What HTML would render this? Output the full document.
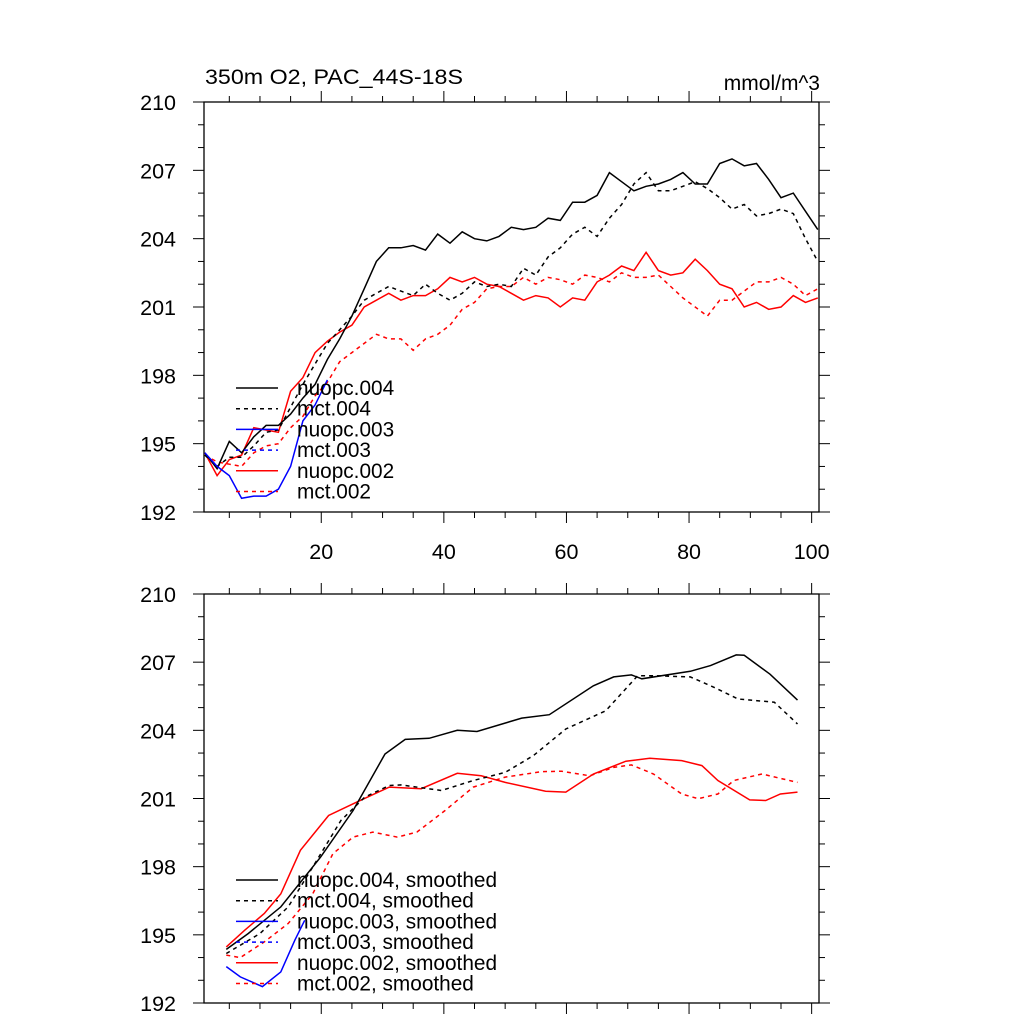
<!DOCTYPE html>
<html><head><meta charset="utf-8"><style>
html,body{margin:0;padding:0;background:#fff;}
svg text{font-family:"Liberation Sans",sans-serif;}
</style></head><body>
<svg id="chart" width="1024" height="1024" viewBox="0 0 1024 1024" xmlns="http://www.w3.org/2000/svg">
<rect width="1024" height="1024" fill="#fff"/>
<text x="205" y="84" font-size="21" textLength="258" lengthAdjust="spacingAndGlyphs">350m O2, PAC_44S-18S</text>
<text x="820" y="90" font-size="21" text-anchor="end">mmol/m^3</text>
</svg>
<script>
// Top panel raw data (years 1,3,...,101)
const years = [1,3,5,7,9,11,13,15,17,19,21,23,25,27,29,31,33,35,37,39,41,43,45,47,49,51,53,55,57,59,61,63,65,67,69,71,73,75,77,79,81,83,85,87,89,91,93,95,97,99,101];
const nuopc004 = [194.6,193.9,195.1,194.6,195.3,195.8,195.8,196.3,197.0,197.6,198.7,199.6,200.6,201.8,203.0,203.6,203.6,203.7,203.5,204.2,203.8,204.3,204.0,203.9,204.1,204.5,204.4,204.5,204.9,204.8,205.6,205.6,205.9,206.9,206.5,206.1,206.3,206.4,206.6,206.9,206.4,206.4,207.3,207.5,207.2,207.3,206.6,205.8,206.0,205.2,204.4];
const mct004 = [194.5,194.0,194.4,194.4,194.9,195.5,195.6,196.6,197.6,198.5,199.4,200.0,200.6,201.3,201.6,201.9,201.7,201.5,202.0,201.6,201.3,201.6,202.1,201.9,202.0,201.9,202.7,202.4,203.2,203.6,204.2,204.5,204.1,204.9,205.5,206.4,206.9,206.1,206.1,206.3,206.5,206.2,205.8,205.3,205.5,205.0,205.1,205.3,205.1,204.0,203.0];
const nuopc002 = [194.6,193.6,194.3,194.5,195.7,195.6,195.5,197.3,197.9,199.0,199.5,199.9,200.2,201.0,201.3,201.6,201.3,201.5,201.5,201.8,202.3,202.1,202.3,202.0,201.9,201.6,201.3,201.5,201.4,201.0,201.4,201.3,202.1,202.4,202.8,202.6,203.4,202.6,202.4,202.5,203.1,202.6,202.0,201.8,201.0,201.2,200.9,201.0,201.5,201.2,201.4];
const mct002 = [194.5,194.2,194.1,194.0,194.6,194.9,195.0,195.7,196.2,197.1,197.7,198.6,199.0,199.4,199.8,199.6,199.6,199.1,199.6,199.8,200.2,200.9,201.2,201.8,201.9,201.9,202.3,202.0,202.3,202.2,202.0,202.4,202.3,202.1,202.5,202.3,202.3,202.4,201.9,201.4,201.0,200.6,201.3,201.3,201.7,202.1,202.1,202.3,202.0,201.5,201.8];
const years003 = [1,3,5,7,9,11,13,15,17,19,21];
const nuopc003 = [194.6,194.0,193.6,192.6,192.7,192.7,193.0,194.0,196.0,196.7,197.8];

// Bottom panel smoothed data
const sYrN004 = [4.5,8.1,13.4,19.9,25.2,30.4,33.7,37.6,42.2,45.4,52.7,57.2,64.4,67.7,70.6,72.3,80.2,83.5,87.7,89,93.2,97.7];
const sN004 = [194.36,195.06,196.23,198.42,200.47,202.96,203.6,203.65,204.0,203.95,204.54,204.69,205.96,206.35,206.44,206.27,206.6,206.85,207.32,207.3,206.47,205.33];
const sYrM004 = [4.5,10,14.6,18.6,23.2,27.1,31.1,33,39.6,44.8,50,54.6,59.9,66.4,71.6,74.8,80.2,84.1,88,93.9,97.7];
const sM004 = [194.18,195.06,196.23,197.98,200.03,201.06,201.57,201.6,201.35,201.79,202.15,202.89,204.06,204.86,206.4,206.4,206.35,205.89,205.38,205.24,204.28];
const sYrN002 = [4.5,7.5,10.7,13.4,16.6,21.2,25.8,31.1,36.3,42.2,46.1,50,56.6,59.9,64.4,69.7,73.6,78.8,82.1,84.7,89.9,92.5,94.9,97.7];
const sN002 = [194.47,195.2,195.94,196.8,198.72,200.25,200.84,201.5,201.43,202.11,202.0,201.71,201.32,201.28,202.08,202.64,202.77,202.67,202.45,201.79,200.94,200.91,201.2,201.28];
const sYrM002 = [4.5,6.8,10.7,14.6,18.6,21.9,25.2,28.4,32.4,35.6,40.2,44.8,50,55.9,59.2,63.8,67.7,70.6,74.2,78.8,81.5,84.7,87.3,91.9,97.7];
const sM002 = [194.11,194.0,194.69,195.5,196.8,198.57,199.3,199.52,199.3,199.52,200.47,201.5,201.94,202.18,202.2,202.0,202.37,202.48,202.08,201.2,200.99,201.2,201.79,202.08,201.71];
const sYrN003 = [4.5,6.8,10.4,13.4,15.7,17.3];
const sN003 = [193.6,193.15,192.72,193.37,194.77,195.64];

const yTicks = [192,195,198,201,204,207,210];
const xTicks = [20,40,60,80,100];

const svg = document.getElementById('chart');
const NS = 'http://www.w3.org/2000/svg';
const X0 = 204, X1 = 819, XMIN = 0.87, XMAX = 101.2;
function xs(v){ return X0 + (v - XMIN) / (XMAX - XMIN) * (X1 - X0); }
function mk(tag, attrs){ const e = document.createElementNS(NS, tag); for (const k in attrs) e.setAttribute(k, attrs[k]); svg.appendChild(e); return e; }

function panel(top, bottom, name, showXLabels){
  const ys = v => bottom - (v - 192) / 18 * (bottom - top);
  const f = mk('rect', {x:X0, y:top, width:X1-X0, height:bottom-top, fill:'none', stroke:'#000', 'stroke-width':1.3});
  
  
  for (let v = 192; v <= 210; v++) {
    const major = (v - 192) % 3 === 0;
    const L = major ? 11 : 6;
    const t1 = mk('line', {x1:X0-L, x2:X0, y1:ys(v), y2:ys(v), stroke:'#000', 'stroke-width':1});
    
    
    const t2 = mk('line', {x1:X1, x2:X1+L, y1:ys(v), y2:ys(v), stroke:'#000', 'stroke-width':1});
    
    
  }
  yTicks.forEach(v => {
    const t = mk('text', {x:X0-28, y:ys(v)+8, 'font-size':21.5, 'text-anchor':'end'});
    t.textContent = v;
    
    
  });
  for (let v = 5; v <= 100; v += 5) {
    const major = v % 20 === 0;
    const L = major ? 11 : 6;
    const b = mk('line', {x1:xs(v), x2:xs(v), y1:bottom, y2:bottom+L, stroke:'#000', 'stroke-width':1});
    
    
    const tp = mk('line', {x1:xs(v), x2:xs(v), y1:top-L, y2:top, stroke:'#000', 'stroke-width':1});
    
    
  }
  if (showXLabels) xTicks.forEach(v => {
    const t = mk('text', {x:xs(v), y:bottom+47, 'font-size':21.5, 'text-anchor':'middle'});
    t.textContent = v;
    
    
  });
  return ys;
}

function series(xArr, yArr, ys, color, dashed, name){
  const pts = xArr.map((x, i) => xs(x).toFixed(1) + ',' + ys(yArr[i]).toFixed(1)).join(' ');
  const p = mk('polyline', {points:pts, fill:'none', stroke:color, 'stroke-width':1.5});
  if (dashed) p.setAttribute('stroke-dasharray', '4,4');
  
  
}

function legend(x, y0, dy, items){
  items.forEach((it, i) => {
    const y = y0 + i * dy;
    const l = mk('line', {x1:x, x2:x+42, y1:y, y2:y, stroke:it[1], 'stroke-width':1.5});
    if (it[2]) l.setAttribute('stroke-dasharray', '4,4');
    
    
    const t = mk('text', {x:x+61, y:y+7, 'font-size':20.8});
    t.textContent = it[0];
    
    
  });
}

const ysT = panel(102, 512, 'top-panel', true);
series(years, mct002, ysT, '#ff0000', true, 'mct002-line');
series(years, nuopc002, ysT, '#ff0000', false, 'nuopc002-line');
series(years, mct004, ysT, '#000', true, 'mct004-line');
series(years, nuopc004, ysT, '#000', false, 'nuopc004-line');
series(years003, nuopc003, ysT, '#0000ff', false, 'nuopc003-line');
legend(236, 388, 20.7, [['nuopc.004','#000',false],['mct.004','#000',true],['nuopc.003','#0000ff',false],['mct.003','#0000ff',true],['nuopc.002','#ff0000',false],['mct.002','#ff0000',true]]);

const ysB = panel(594, 1003, 'bottom-panel', false);
series(sYrM002, sM002, ysB, '#ff0000', true, 'mct002-smoothed-line');
series(sYrN002, sN002, ysB, '#ff0000', false, 'nuopc002-smoothed-line');
series(sYrM004, sM004, ysB, '#000', true, 'mct004-smoothed-line');
series(sYrN004, sN004, ysB, '#000', false, 'nuopc004-smoothed-line');
series(sYrN003, sN003, ysB, '#0000ff', false, 'nuopc003-smoothed-line');
legend(236, 880, 20.7, [['nuopc.004, smoothed','#000',false],['mct.004, smoothed','#000',true],['nuopc.003, smoothed','#0000ff',false],['mct.003, smoothed','#0000ff',true],['nuopc.002, smoothed','#ff0000',false],['mct.002, smoothed','#ff0000',true]]);
</script>
</body></html>
